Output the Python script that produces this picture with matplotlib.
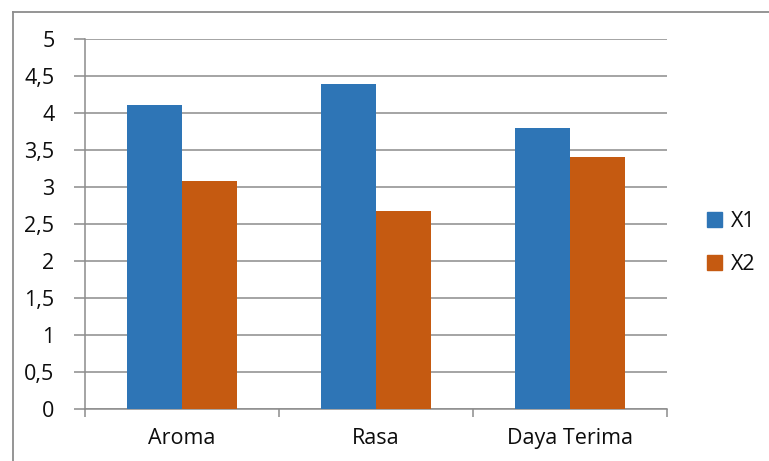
import matplotlib
matplotlib.use("Agg")
import matplotlib.pyplot as plt
from matplotlib.lines import Line2D
from matplotlib.patches import Patch
import numpy as np

categories = ["Aroma", "Rasa", "Daya Terima"]
x1_values = [4.10, 4.38, 3.79]
x2_values = [3.07, 2.67, 3.40]
series_names = ["X1", "X2"]
y_ticks = [0, 0.5, 1, 1.5, 2, 2.5, 3, 3.5, 4, 4.5, 5]

plt.rcParams['font.family'] = ['Open Sans', 'DejaVu Sans']

W, H = 769, 461
fig = plt.figure(figsize=(W / 100, H / 100), dpi=100)
ax = fig.add_axes([85 / W, 1 - 408.5 / H, (667 - 85) / W, (408.5 - 38.5) / H])

blue = "#2E75B6"
orange = "#C55A11"
grid_c = "#8C8C8C"
txt_c = "#0d0d0d"
fs = 15.5

n = len(categories)
x = np.arange(n)
bw = 1 / 3.5
ax.bar(x - bw / 2, x1_values, bw, color=blue, zorder=3, label=series_names[0])
ax.bar(x + bw / 2, x2_values, bw, color=orange, zorder=3, label=series_names[1])

ax.set_xlim(-0.5, n - 0.5)
ax.set_ylim(0, 5)
ax.set_yticks(y_ticks)
ax.set_yticklabels([("%g" % v).replace(".", ",") for v in y_ticks], fontsize=fs, color=txt_c)
ax.yaxis.grid(True, color=grid_c, linewidth=1.1, zorder=0)
ax.tick_params(axis="y", length=8, color=grid_c, width=1.1, pad=14)

ax.set_xticks(x)
ax.set_xticklabels(categories, fontsize=fs, color=txt_c)
ax.tick_params(axis="x", length=0, pad=14)
ax.set_xticks(np.arange(n + 1) - 0.5, minor=True)
ax.tick_params(axis="x", which="minor", length=6, color=grid_c, width=1.1)

for s in ["top", "right"]:
    ax.spines[s].set_visible(False)
for s in ["left", "bottom"]:
    ax.spines[s].set_color(grid_c)
    ax.spines[s].set_linewidth(1.1)

handles = [Patch(color=blue), Patch(color=orange)]
leg = fig.legend(handles, series_names, loc="center left",
                 bbox_to_anchor=(688 / W, 1 - 243 / H), frameon=False,
                 fontsize=fs, handlelength=0.68, handleheight=0.68,
                 handletextpad=0.4, labelspacing=1.0)
for t in leg.get_texts():
    t.set_color(txt_c)

# outer chart border (left and top visible)
fig.add_artist(Line2D([12.5 / W, 12.5 / W], [0, 1 - 12.5 / H], transform=fig.transFigure,
                      color="#8C8C8C", linewidth=1.3))
fig.add_artist(Line2D([12.5 / W, 1], [1 - 12.5 / H, 1 - 12.5 / H], transform=fig.transFigure,
                      color="#8C8C8C", linewidth=1.3))

fig.savefig("out.png", dpi=100)
